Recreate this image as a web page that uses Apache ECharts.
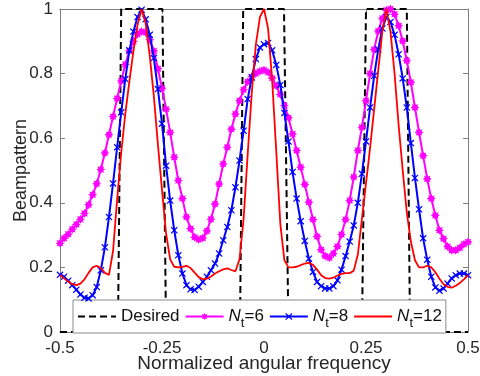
<!DOCTYPE html>
<html>
<head>
<meta charset="utf-8">
<script src="https://cdn.jsdelivr.net/npm/echarts@6/dist/echarts.min.js"></script>
<style>
html,body{margin:0;padding:0;background:#fff;}
#chart{width:480px;height:376px;}
</style>
</head>
<body>
<div id="chart"></div>
<script>
// ---- data ----
const freq = [-0.50,-0.49,-0.48,-0.47,-0.46,-0.45,-0.44,-0.43,-0.42,-0.41,-0.40,-0.39,-0.38,-0.37,-0.36,-0.35,-0.34,-0.33,-0.32,-0.31,-0.30,-0.29,-0.28,-0.27,-0.26,-0.25,-0.24,-0.23,-0.22,-0.21,-0.20,-0.19,-0.18,-0.17,-0.16,-0.15,-0.14,-0.13,-0.12,-0.11,-0.10,-0.09,-0.08,-0.07,-0.06,-0.05,-0.04,-0.03,-0.02,-0.01,0.00,0.01,0.02,0.03,0.04,0.05,0.06,0.07,0.08,0.09,0.10,0.11,0.12,0.13,0.14,0.15,0.16,0.17,0.18,0.19,0.20,0.21,0.22,0.23,0.24,0.25,0.26,0.27,0.28,0.29,0.30,0.31,0.32,0.33,0.34,0.35,0.36,0.37,0.38,0.39,0.40,0.41,0.42,0.43,0.44,0.45,0.46,0.47,0.48,0.49,0.50];

const nt6 = [0.275,0.290,0.303,0.318,0.333,0.349,0.367,0.394,0.425,0.459,0.503,0.554,0.611,0.667,0.723,0.777,0.828,0.870,0.900,0.922,0.930,0.927,0.905,0.870,0.815,0.755,0.690,0.618,0.541,0.469,0.413,0.356,0.320,0.293,0.286,0.291,0.313,0.349,0.396,0.458,0.520,0.572,0.628,0.675,0.716,0.750,0.775,0.790,0.800,0.807,0.811,0.804,0.786,0.762,0.735,0.701,0.663,0.613,0.562,0.510,0.457,0.402,0.348,0.296,0.255,0.235,0.230,0.243,0.265,0.302,0.348,0.407,0.480,0.562,0.634,0.716,0.800,0.875,0.932,0.971,0.996,1.000,0.984,0.948,0.901,0.840,0.773,0.695,0.618,0.546,0.474,0.413,0.361,0.315,0.289,0.265,0.253,0.253,0.261,0.272,0.279];

const nt8 = [0.177,0.171,0.159,0.145,0.131,0.116,0.106,0.104,0.114,0.139,0.191,0.262,0.356,0.460,0.572,0.680,0.783,0.872,0.930,0.975,0.998,0.968,0.920,0.848,0.752,0.645,0.515,0.407,0.315,0.238,0.181,0.145,0.132,0.130,0.140,0.155,0.171,0.191,0.212,0.243,0.284,0.325,0.377,0.448,0.531,0.623,0.721,0.788,0.845,0.881,0.891,0.895,0.872,0.827,0.765,0.678,0.590,0.495,0.413,0.343,0.282,0.227,0.186,0.155,0.142,0.135,0.135,0.142,0.160,0.193,0.235,0.280,0.330,0.400,0.490,0.590,0.695,0.793,0.875,0.940,0.975,0.960,0.920,0.860,0.785,0.695,0.585,0.477,0.380,0.290,0.224,0.171,0.138,0.128,0.135,0.150,0.166,0.176,0.181,0.181,0.176];

const nt12 = [0.176,0.166,0.156,0.148,0.145,0.150,0.163,0.183,0.200,0.205,0.198,0.183,0.177,0.250,0.410,0.555,0.675,0.775,0.870,0.950,1.000,0.955,0.855,0.730,0.580,0.440,0.305,0.225,0.202,0.200,0.202,0.205,0.198,0.184,0.170,0.163,0.165,0.172,0.181,0.188,0.194,0.197,0.192,0.188,0.225,0.350,0.550,0.740,0.890,0.975,1.000,0.940,0.780,0.560,0.335,0.222,0.200,0.200,0.202,0.207,0.212,0.214,0.208,0.193,0.176,0.167,0.165,0.168,0.175,0.180,0.182,0.182,0.190,0.240,0.350,0.460,0.570,0.690,0.810,0.930,1.000,0.930,0.800,0.640,0.500,0.370,0.280,0.222,0.200,0.200,0.205,0.200,0.185,0.165,0.148,0.140,0.137,0.143,0.152,0.163,0.176];

const desiredX = [-0.5,-0.358,-0.35,-0.249,-0.24,-0.059,-0.051,0.049,0.06,0.24,0.25,0.35,0.358,0.5];
const desiredY = [0,0,1,1,0,0,1,1,0,0,1,1,0,0];

const xTickLabels = ['-0.5','-0.25','0','0.25','0.5'];
const yTickLabels = ['0','0.2','0.4','0.6','0.8','1'];
const seriesNames = ['Desired','N6','N8','N12'];

// ---- build ----
const pairs = (xs, ys) => xs.map((x, i) => [x, ys[i]]);
function starPath() {
  let s = 'path://';
  for (let k = 0; k < 16; k++) {
    const a = k * Math.PI / 8 - Math.PI / 2;
    const r = (k % 2 === 0) ? 5 : 3.0;
    s += (k === 0 ? 'M' : 'L') + (5 + r * Math.cos(a)).toFixed(3) + ',' + (5 + r * Math.sin(a)).toFixed(3);
  }
  return s + 'Z';
}
const xPath = 'path://M1,0L5,3.6L9,0L10,1.2L6.4,5L10,8.8L9,10L5,6.4L1,10L0,8.8L3.6,5L0,1.2Z';
const FONT = '"Liberation Sans", Arial, sans-serif';
const axisGray = '#7f7f7f';
const txt = '#262626';

const chart = echarts.init(document.getElementById('chart'), null, {renderer: 'canvas'});
const legendText = {
  Desired: '{r|Desired}',
  N6: '{n|N}{s|t}{r|=6}',
  N8: '{n|N}{s|t}{r|=8}',
  N12: '{n|N}{s|t}{r|=12}'
};
const option = {
  animation: false,
  backgroundColor: '#fff',
  textStyle: {fontFamily: FONT},
  grid: {left: 60, right: 12, top: 9, bottom: 44, containLabel: false, outerBoundsMode: 'none'},
  xAxis: [{
    type: 'value', min: -0.5, max: 0.5, interval: 0.25, position: 'bottom',
    axisLine: {show: true, onZero: false, lineStyle: {color: axisGray, width: 1}},
    axisTick: {show: true, inside: true, length: 5, lineStyle: {color: axisGray}},
    splitLine: {show: false},
    axisLabel: {fontSize: 17, color: txt, margin: 8, fontFamily: FONT,
      formatter: v => xTickLabels[Math.round((v + 0.5) / 0.25)]},
    name: 'Normalized angular frequency', nameLocation: 'middle', nameGap: 22,
    nameMoveOverlap: false,
    nameTextStyle: {fontSize: 19, color: txt, fontFamily: FONT}
  }, {
    type: 'value', min: -0.5, max: 0.5, interval: 0.25, position: 'top',
    axisLine: {show: true, onZero: false, lineStyle: {color: axisGray, width: 1}},
    axisTick: {show: true, inside: true, length: 5, lineStyle: {color: axisGray}},
    splitLine: {show: false}, axisLabel: {show: false}
  }],
  yAxis: [{
    type: 'value', min: 0, max: 1, interval: 0.2, position: 'left',
    axisLine: {show: true, onZero: false, lineStyle: {color: axisGray, width: 1}},
    axisTick: {show: true, inside: true, length: 5, lineStyle: {color: axisGray}},
    splitLine: {show: false},
    axisLabel: {fontSize: 17, color: txt, margin: 7, fontFamily: FONT,
      formatter: v => yTickLabels[Math.round(v / 0.2)]},
    name: 'Beampattern', nameLocation: 'middle', nameGap: 30,
    nameMoveOverlap: false,
    nameTextStyle: {fontSize: 18, color: txt, fontFamily: FONT}
  }, {
    type: 'value', min: 0, max: 1, interval: 0.2, position: 'right',
    axisLine: {show: true, onZero: false, lineStyle: {color: axisGray, width: 1}},
    axisTick: {show: true, inside: true, length: 5, lineStyle: {color: axisGray}},
    splitLine: {show: false}, axisLabel: {show: false}
  }],
  legend: {
    left: 73, top: 300, orient: 'horizontal',
    data: [
      {name: 'Desired', itemStyle: {opacity: 0}},
      {name: 'N6'},
      {name: 'N8'},
      {name: 'N12', itemStyle: {opacity: 0}}
    ],
    itemWidth: 38, itemHeight: 9, itemGap: 5,
    padding: [3, 4, 3, 4],
    backgroundColor: '#fff', borderColor: '#8a8a8a', borderWidth: 1, borderRadius: 0,
    formatter: name => legendText[name],
    textStyle: {
      fontSize: 17, color: '#111', fontFamily: FONT, lineHeight: 27,
      rich: {
        r: {fontSize: 17, lineHeight: 27, fontFamily: FONT, color: '#111'},
        n: {fontSize: 17, lineHeight: 27, fontStyle: 'italic', fontFamily: FONT, color: '#111'},
        s: {fontSize: 13, lineHeight: 13, verticalAlign: 'bottom', fontFamily: FONT, color: '#111'}
      }
    }
  },
  series: [{
    name: 'Desired', type: 'line', data: pairs(desiredX, desiredY),
    symbol: 'none', lineStyle: {color: '#000', width: 2, type: [7, 4]},
    itemStyle: {color: '#000'}, z: 3
  }, {
    name: 'N6', type: 'line', data: pairs(freq, nt6),
    symbol: starPath(), symbolSize: 9, showSymbol: true, showAllSymbol: true,
    lineStyle: {color: '#ff00ff', width: 2}, itemStyle: {color: '#ff00ff'}, z: 4
  }, {
    name: 'N8', type: 'line', data: pairs(freq, nt8),
    symbol: xPath, symbolSize: 7, showSymbol: true, showAllSymbol: true,
    lineStyle: {color: '#0000ff', width: 2}, itemStyle: {color: '#0000ff'}, z: 5
  }, {
    name: 'N12', type: 'line', data: pairs(freq, nt12),
    symbol: 'none', lineStyle: {color: '#ff0000', width: 1.8}, itemStyle: {color: '#ff0000'}, z: 6
  }]
};
chart.setOption(option);
</script>
</body>
</html>
